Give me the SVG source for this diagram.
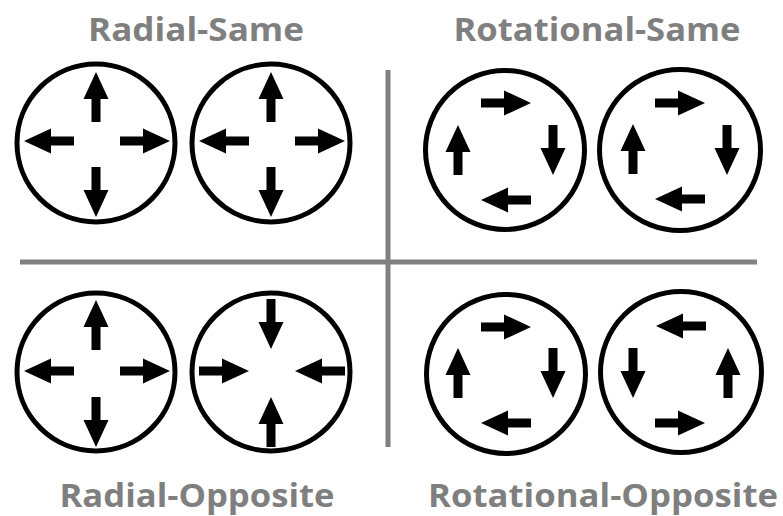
<svg xmlns="http://www.w3.org/2000/svg" width="783" height="516" viewBox="0 0 783 516">
<style>
.c{fill:none;stroke:#000;stroke-width:5}
.t{font-family:"Open Sans","Liberation Sans",sans-serif;font-weight:700;fill:#7f7f7f;text-anchor:middle}
.g{stroke:#808080;stroke-width:5;fill:none}
</style>
<defs>
<path id="a" d="M0,-4.5H23V-12.5L50,0L23,12.5V4.5H0Z" fill="#000"/>
</defs>
<rect width="783" height="516" fill="#fff"/>
<g id="dividers">
<line class="g" x1="20" y1="262" x2="757" y2="262"/>
<line class="g" x1="388" y1="70" x2="388" y2="447"/>
</g>
<g id="titles">
<text class="t" x="196" y="41" font-size="33" textLength="216" lengthAdjust="spacingAndGlyphs">Radial-Same</text>
<text class="t" x="597" y="41" font-size="33" textLength="287" lengthAdjust="spacingAndGlyphs">Rotational-Same</text>
<text class="t" x="197" y="507" font-size="33" textLength="275" lengthAdjust="spacingAndGlyphs">Radial-Opposite</text>
<text class="t" x="603" y="507" font-size="33" textLength="350" lengthAdjust="spacingAndGlyphs">Rotational-Opposite</text>
</g>
<g id="radial-same-1">
<circle class="c" cx="96" cy="143" r="79"/>
<use href="#a" transform="translate(120,141)"/>
<use href="#a" transform="translate(74,141) rotate(180)"/>
<use href="#a" transform="translate(96,122) rotate(-90)"/>
<use href="#a" transform="translate(96,167) rotate(90)"/>
</g>
<g id="radial-same-2">
<circle class="c" cx="271" cy="143" r="79"/>
<use href="#a" transform="translate(295,141)"/>
<use href="#a" transform="translate(249,141) rotate(180)"/>
<use href="#a" transform="translate(271,122) rotate(-90)"/>
<use href="#a" transform="translate(271,167) rotate(90)"/>
</g>
<g id="rotational-same-1">
<circle class="c" cx="505" cy="150" r="79.5"/>
<use href="#a" transform="translate(481,103)"/>
<use href="#a" transform="translate(553,125) rotate(90)"/>
<use href="#a" transform="translate(531,200) rotate(180)"/>
<use href="#a" transform="translate(458,175) rotate(-90)"/>
</g>
<g id="rotational-same-2">
<circle class="c" cx="680" cy="150" r="80.5"/>
<use href="#a" transform="translate(655,103)"/>
<use href="#a" transform="translate(727,125) rotate(90)"/>
<use href="#a" transform="translate(705,199) rotate(180)"/>
<use href="#a" transform="translate(633,174) rotate(-90)"/>
</g>
<g id="radial-opposite-1">
<circle class="c" cx="96" cy="372" r="79"/>
<use href="#a" transform="translate(120,371)"/>
<use href="#a" transform="translate(74,371) rotate(180)"/>
<use href="#a" transform="translate(96,350) rotate(-90)"/>
<use href="#a" transform="translate(96,397) rotate(90)"/>
</g>
<g id="radial-opposite-2">
<circle class="c" cx="271" cy="372" r="79"/>
<use href="#a" transform="translate(199,371)"/>
<use href="#a" transform="translate(345,371) rotate(180)"/>
<use href="#a" transform="translate(271,447) rotate(-90)"/>
<use href="#a" transform="translate(271,299) rotate(90)"/>
</g>
<g id="rotational-opposite-1">
<circle class="c" cx="506" cy="374" r="79.5"/>
<use href="#a" transform="translate(481,327)"/>
<use href="#a" transform="translate(553,348) rotate(90)"/>
<use href="#a" transform="translate(531,423) rotate(180)"/>
<use href="#a" transform="translate(458,398) rotate(-90)"/>
</g>
<g id="rotational-opposite-2">
<circle class="c" cx="681" cy="372" r="80.5"/>
<use href="#a" transform="translate(706,326) rotate(180)"/>
<use href="#a" transform="translate(633,348) rotate(90)"/>
<use href="#a" transform="translate(655,423)"/>
<use href="#a" transform="translate(728,398) rotate(-90)"/>
</g>
</svg>
